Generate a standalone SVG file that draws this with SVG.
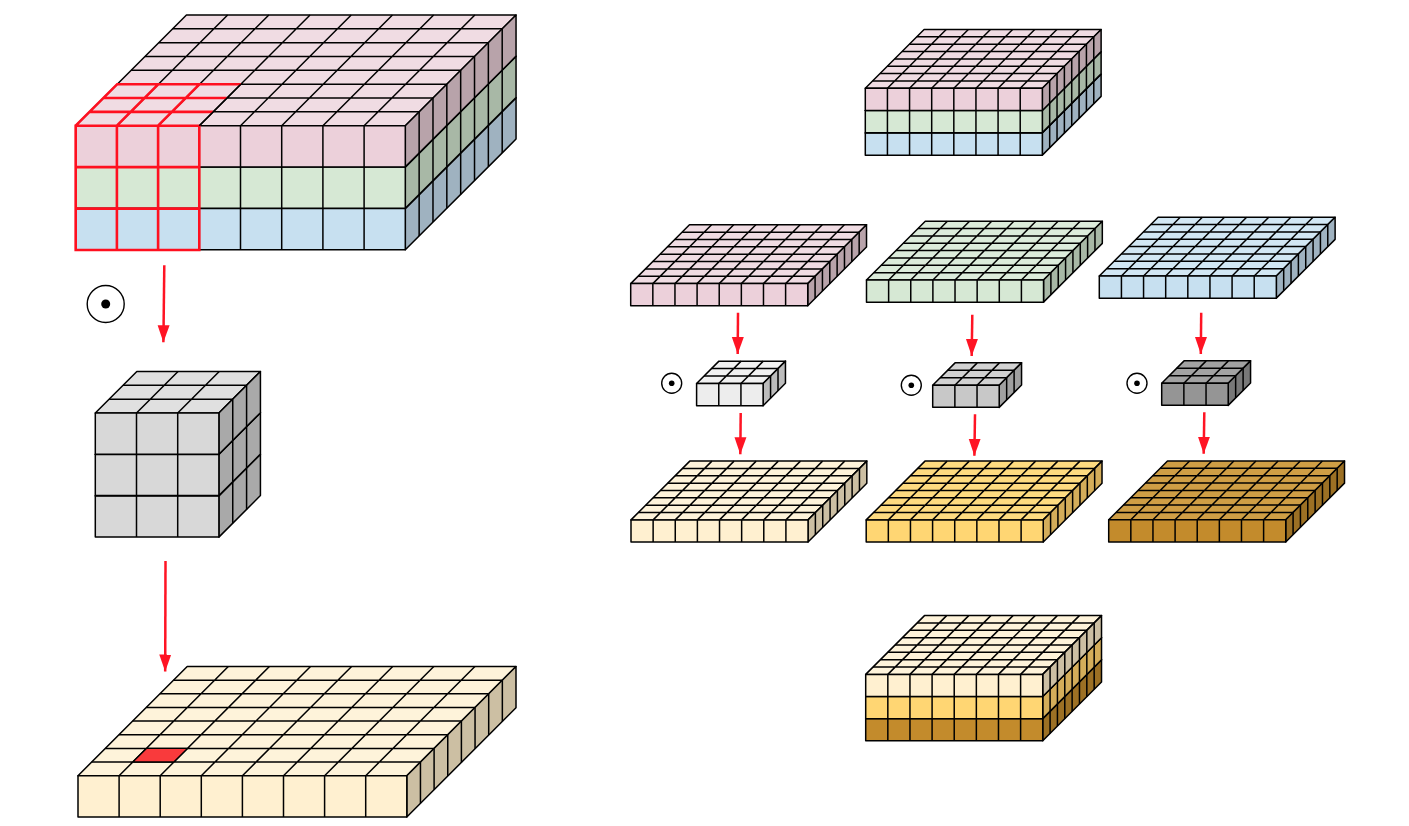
<svg xmlns="http://www.w3.org/2000/svg" xmlns:xlink="http://www.w3.org/1999/xlink" width="1409" height="826" viewBox="0 0 1409 826">
<style>
.l,.f,.t,.s{stroke:#000;stroke-width:1.5;stroke-linejoin:round;vector-effect:non-scaling-stroke}
.l{fill:none}
.f{fill:var(--f)}
.t{fill:var(--t)}
.s{fill:var(--s)}
.pink{--f:#ecd0da;--t:#f0dce3;--s:#b8a3aa}
.green{--f:#d6e8d4;--t:#dcecdb;--s:#a8b8a6}
.blue{--f:#c7e0f0;--t:#d2e7f4;--s:#9fb2c0}
.yellow{--f:#fff0d0;--t:#fef3da;--s:#ccbfa3}
.orange{--f:#ffd673;--t:#fedb80;--s:#d4ad5a}
.brown{--f:#c38b2c;--t:#cf9e45;--s:#9c7024}
.gray{--f:#d8d8d8;--t:#e0e0e0;--s:#a9a9a9}
.lgray{--f:#ededed;--t:#f1f1f1;--s:#bcbcbc}
.mgray{--f:#c8c8c8;--t:#d2d2d2;--s:#a0a0a0}
.dgray{--f:#959595;--t:#a2a2a2;--s:#787878}
.ring{fill:#fff;stroke:#000;stroke-width:1.4}
.arrow{fill:none;stroke:#ff1424;stroke-width:2.5}
.sel{fill:none;stroke:#ff1020;stroke-width:2.6}
</style>
<defs>
<marker id="head" markerUnits="userSpaceOnUse" markerWidth="18" markerHeight="14" refX="17" refY="6.5" orient="auto"><path d="M0 0.5L17 6.5L0 12.5Z" fill="#ff1424"/></marker>
<g id="slab8">
<path class="t" d="M0 0H800L1068.8-268.8H268.8Z"/>
<path class="l" d="M33.6-33.6H833.6M67.2-67.2H867.2M100.8-100.8H900.8M134.4-134.4H934.4M168-168H968M201.6-201.6H1001.6M235.2-235.2H1035.2M100 0l268.8-268.8M200 0l268.8-268.8M300 0l268.8-268.8M400 0l268.8-268.8M500 0l268.8-268.8M600 0l268.8-268.8M700 0l268.8-268.8"/>
<path class="s" d="M800 0L1068.8-268.8V-168.8L800 100Z"/>
<path class="l" d="M833.6-33.6v100M867.2-67.2v100M900.8-100.8v100M934.4-134.4v100M968-168v100M1001.6-201.6v100M1035.2-235.2v100"/>
<rect class="f" width="800" height="100"/>
<path class="l" d="M100 0v100M200 0v100M300 0v100M400 0v100M500 0v100M600 0v100M700 0v100"/>
</g>
<g id="slab8s">
<path class="t" d="M0 0H800L1065.6-265.6H265.6Z"/>
<path class="l" d="M33.2-33.2H833.2M66.4-66.4H866.4M99.6-99.6H899.6M132.8-132.8H932.8M166-166H966M199.2-199.2H999.2M232.4-232.4H1032.4M100 0l265.6-265.6M200 0l265.6-265.6M300 0l265.6-265.6M400 0l265.6-265.6M500 0l265.6-265.6M600 0l265.6-265.6M700 0l265.6-265.6"/>
<path class="s" d="M800 0L1065.6-265.6V-165.6L800 100Z"/>
<path class="l" d="M833.2-33.2v100M866.4-66.4v100M899.6-99.6v100M932.8-132.8v100M966-166v100M999.2-199.2v100M1032.4-232.4v100"/>
<rect class="f" width="800" height="100"/>
<path class="l" d="M100 0v100M200 0v100M300 0v100M400 0v100M500 0v100M600 0v100M700 0v100"/>
</g>
<g id="slab3">
<path class="t" d="M0 0H300L400.8-100.8H100.8Z"/>
<path class="l" d="M33.6-33.6H333.6M67.2-67.2H367.2M100 0l100.8-100.8M200 0l100.8-100.8"/>
<path class="s" d="M300 0L400.8-100.8V-0.8L300 100Z"/>
<path class="l" d="M333.6-33.6v100M367.2-67.2v100"/>
<rect class="f" width="300" height="100"/>
<path class="l" d="M100 0v100M200 0v100"/>
</g>
</defs>

<g id="input-stack-large">
<use href="#slab8" class="blue" transform="translate(75.7 208.6) scale(.412)"/>
<use href="#slab8" class="green" transform="translate(75.7 167.1) scale(.412)"/>
<use href="#slab8" class="pink" transform="translate(75.7 125.7) scale(.412)"/>
<path class="sel" d="M75.7 125.7H199.3V250H75.7ZM75.7 167.1H199.3M75.7 208.6H199.3M116.9 125.7V250M158.1 125.7V250M75.7 125.7L117.2 84.2H240.8M89.5 111.9H213M103.3 98H226.9M116.9 125.7L158.4 84.2M158.1 125.7L199.6 84.2"/>
<path class="l" d="M199.3 125.7L240.8 84.2"/>
</g>
<g id="op-large"><circle class="ring" cx="105.7" cy="304" r="18.5"/><circle cx="105.7" cy="304" r="4.5"/></g>
<g id="kernel-large">
<use href="#slab3" class="gray" transform="translate(95.3 495.9) scale(.412)"/>
<use href="#slab3" class="gray" transform="translate(95.3 454.4) scale(.412)"/>
<use href="#slab3" class="gray" transform="translate(95.3 413) scale(.412)"/>
</g>
<g id="output-slab-large" class="yellow">
<path class="t" d="M78 775.7H406.8L516 666.5H187.2Z"/>
<path class="l" d="M91.65 762.05h328.8M105.3 748.4h328.8M118.95 734.75h328.8M132.6 721.1h328.8M146.25 707.45h328.8M159.9 693.8h328.8M173.55 680.15h328.8M119.1 775.7l109.2-109.2M160.2 775.7l109.2-109.2M201.3 775.7l109.2-109.2M242.4 775.7l109.2-109.2M283.5 775.7l109.2-109.2M324.6 775.7l109.2-109.2M365.7 775.7l109.2-109.2"/>
<path class="s" d="M406.8 775.7L516 666.5V707.8L406.8 817Z"/>
<path class="l" d="M420.45 762.05v41.3M434.1 748.4v41.3M447.75 734.75v41.3M461.4 721.1v41.3M475.05 707.45v41.3M488.7 693.8v41.3M502.35 680.15v41.3"/>
<rect class="f" x="78" y="775.7" width="328.8" height="41.3"/>
<path class="l" d="M119.1 775.7v41.3M160.2 775.7v41.3M201.3 775.7v41.3M242.4 775.7v41.3M283.5 775.7v41.3M324.6 775.7v41.3M365.7 775.7v41.3"/>
<path d="M132.75 762.05H173.85L187.5 748.4H146.4Z" fill="#f93a3c" stroke="#000" stroke-width="1.4"/>
</g>

<g id="input-stack-small">
<use href="#slab8s" class="blue" transform="translate(865.3 133) scale(.2213)"/>
<use href="#slab8s" class="green" transform="translate(865.3 110.5) scale(.2213)"/>
<use href="#slab8s" class="pink" transform="translate(865.3 88.3) scale(.2213)"/>
</g>
<g id="slab-pink"><use href="#slab8s" class="pink" transform="translate(630.7 283.6) scale(.2213)"/></g>
<g id="slab-green"><use href="#slab8s" class="green" transform="translate(866.5 280) scale(.2213)"/></g>
<g id="slab-blue"><use href="#slab8s" class="blue" transform="translate(1099.3 276) scale(.2213)"/></g>
<g id="op-1"><circle class="ring" cx="671.7" cy="383.3" r="10"/><circle cx="671.7" cy="383.3" r="2.8"/></g>
<g id="op-2"><circle class="ring" cx="911.3" cy="385.3" r="10"/><circle cx="911.3" cy="385.3" r="2.8"/></g>
<g id="op-3"><circle class="ring" cx="1137" cy="383.3" r="10"/><circle cx="1137" cy="383.3" r="2.8"/></g>
<g id="kernel-1"><use href="#slab3" class="lgray" transform="translate(696.6 383.5) scale(.2217)"/></g>
<g id="kernel-2"><use href="#slab3" class="mgray" transform="translate(932.7 385.2) scale(.2217)"/></g>
<g id="kernel-3"><use href="#slab3" class="dgray" transform="translate(1161.7 383.2) scale(.2217)"/></g>
<g id="result-1"><use href="#slab8s" class="yellow" transform="translate(631 519.9) scale(.2213)"/></g>
<g id="result-2"><use href="#slab8s" class="orange" transform="translate(866.2 519.9) scale(.2213)"/></g>
<g id="result-3"><use href="#slab8s" class="brown" transform="translate(1108.7 519.8) scale(.2213)"/></g>
<g id="output-stack-small">
<use href="#slab8s" class="brown" transform="translate(865.7 718.6) scale(.2213)"/>
<use href="#slab8s" class="orange" transform="translate(865.7 696.5) scale(.2213)"/>
<use href="#slab8s" class="yellow" transform="translate(865.7 674.4) scale(.2213)"/>
</g>

<g id="connectors">
<path class="arrow" marker-end="url(#head)" d="M164.3 265.3L163.4 342.3"/>
<path class="arrow" marker-end="url(#head)" d="M165.5 561L165.2 671.5"/>
<path class="arrow" marker-end="url(#head)" d="M738 312.7L737.7 354"/>
<path class="arrow" marker-end="url(#head)" d="M740.7 413L740.3 454.3"/>
<path class="arrow" marker-end="url(#head)" d="M972.3 314.7L971.7 356"/>
<path class="arrow" marker-end="url(#head)" d="M975 414.3L974.4 455.7"/>
<path class="arrow" marker-end="url(#head)" d="M1201.2 312.7L1200.8 354"/>
<path class="arrow" marker-end="url(#head)" d="M1204.3 412.3L1203.7 453.7"/>
</g>
</svg>
